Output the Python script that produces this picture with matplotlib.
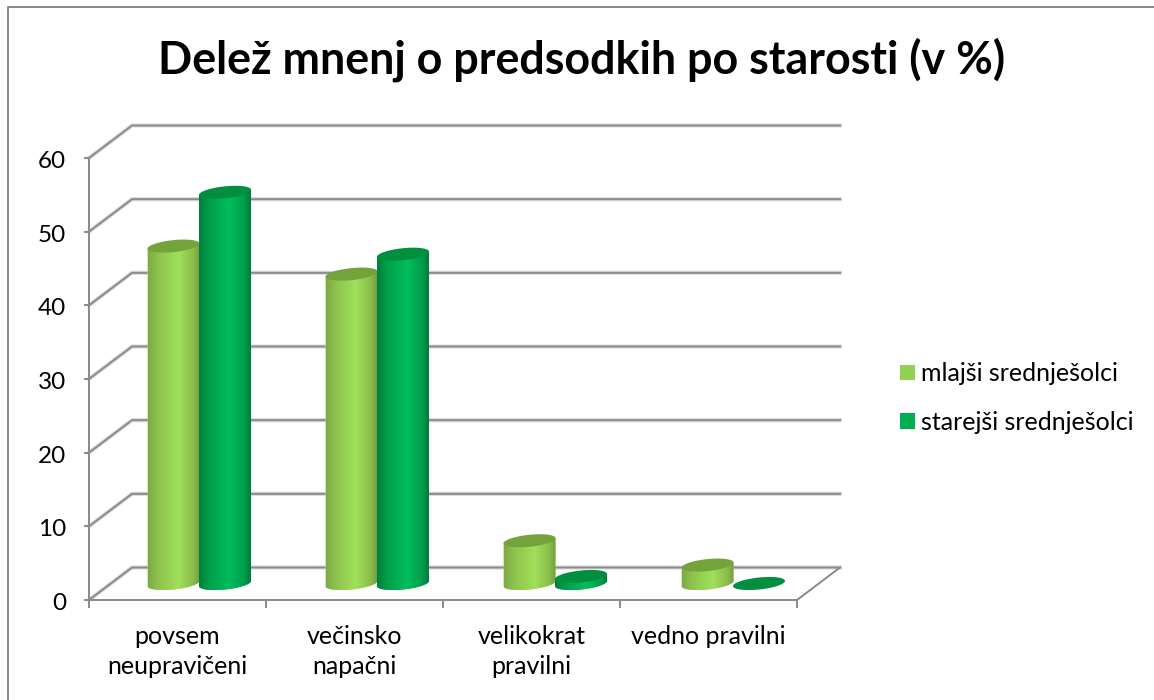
import numpy as np
import matplotlib
matplotlib.use("Agg")
import matplotlib.pyplot as plt
from matplotlib.colors import LinearSegmentedColormap
from matplotlib.lines import Line2D
from matplotlib.patches import Patch, Polygon
from matplotlib.transforms import ScaledTranslation

categories = ["povsem\nneupravičeni", "večinsko\nnapačni", "velikokrat\npravilni", "vedno pravilni"]
series_names = ["mlajši srednješolci", "starejši srednješolci"]
mlajsi = [45.8, 42.0, 5.8, 2.5]
starejsi = [53.1, 44.7, 0.95, 0.0]
y_ticks = [0, 10, 20, 30, 40, 50, 60]
title = "Delež mnenj o predsodkih po starosti (v %)"

plt.rcParams["font.family"] = ["Lato", "DejaVu Sans"]
W, H = 1154, 700
fig = plt.figure(figsize=(W / 100, H / 100), dpi=100, facecolor="white")
L, R, T, B = 89, 797, 158, 600
ax = fig.add_axes([L / W, 1 - B / H, (R - L) / W, (B - T) / H])
SX, SY = (R - L) / 4, (B - T) / 60
GREY = "#8c8c8c"
LW = 1.45
DX, DY = 43 / SX, 32.5 / SY

# outer chart frame
fig.add_artist(Line2D([7.7 / W, 7.7 / W, 1], [0, 1 - 6.8 / H, 1 - 6.8 / H], color=GREY, lw=LW, transform=fig.transFigure))

ax.set_facecolor("none")
for s in ("top", "right"):
    ax.spines[s].set_visible(False)
for s in ("left", "bottom"):
    ax.spines[s].set_color(GREY)
    ax.spines[s].set_linewidth(LW)

# walls and gridlines
for v in y_ticks:
    xs, ys = [0, DX, 4 + DX], [v, v + DY, v + DY]
    ax.plot(xs, ys, color="#dcdcdc", lw=3, clip_on=False, zorder=1, solid_joinstyle="round")
    ax.plot(xs, ys, color=GREY, lw=LW, clip_on=False, zorder=1.1, solid_joinstyle="round")
ax.plot([4, 4 + DX], [0, DY], color=GREY, lw=LW, clip_on=False, zorder=1.1)

cmap_light = LinearSegmentedColormap.from_list("l", [(0, "#7fa845"), (0.2, "#8fc44e"), (0.58, "#a0e05a"), (0.85, "#8cbd4c"), (1, "#709a40")])
cmap_dark = LinearSegmentedColormap.from_list("d", [(0, "#007f3b"), (0.2, "#00a04c"), (0.58, "#00bd5c"), (0.85, "#00a04e"), (1, "#007c3b")])
tops = ["#74a33c", "#008f3f"]
grad = np.linspace(0, 1, 256).reshape(1, -1)

half = 26 / SX
b_y = 6.0 / SY
slope = 2.6 / SY
base = 16.5 / SY
t = np.linspace(0, 2 * np.pi, 200)


def ellipse_pts(cx, cy):
    return np.column_stack([cx + half * np.cos(t), cy + slope * np.cos(t) + b_y * np.sin(t)])


def cylinder(cx, value, cmap, top_color, z):
    y0, y1 = base, base + value
    if value > 0:
        tt = np.linspace(np.pi, 2 * np.pi, 100)
        lower = np.column_stack([cx + half * np.cos(tt), y0 + slope * np.cos(tt) + b_y * np.sin(tt)])
        upper = np.array([[cx + half, y1 + slope], [cx - half, y1 - slope]])
        poly = Polygon(np.vstack([lower, upper]), closed=True, facecolor=cmap(0.6), edgecolor="none", zorder=z, clip_on=False)
        ax.add_patch(poly)
        im = ax.imshow(grad, cmap=cmap, extent=[cx - half, cx + half, y0 - 2, y1 + 2], aspect="auto", zorder=z + 0.1, interpolation="bilinear")
        im.set_clip_path(poly)
    ax.add_patch(Polygon(ellipse_pts(cx, y1), closed=True, facecolor=top_color, edgecolor="none", zorder=z + 0.2, clip_on=False))


z = 3
for i, (a, c) in enumerate(zip(mlajsi, starejsi)):
    center = i + 0.5 + (21.5 + i) / SX
    cylinder(center - 25.5 / SX, a, cmap_light, tops[0], z)
    cylinder(center + 26 / SX, c, cmap_dark, tops[1], z + 1)
    z += 2

ax.set_xlim(0, 4)
ax.set_ylim(0, 60)
ax.set_yticks(y_ticks)
ax.tick_params(axis="y", length=3.8, width=LW, color=GREY, labelsize=17.5, pad=12.5, labelcolor="black")
shift = ScaledTranslation(0, -1.5 / 100, fig.dpi_scale_trans)
for lab in ax.get_yticklabels():
    lab.set_transform(lab.get_transform() + shift)
ax.set_xticks(range(5))
ax.set_xticklabels([])
ax.tick_params(axis="x", which="major", length=6, width=LW, color=GREY)
ax.set_xticks(np.arange(4) + 0.5, minor=True)
ax.set_xticklabels(categories, minor=True, fontsize=18, linespacing=1.38)
ax.tick_params(axis="x", which="minor", length=0, pad=18)

fig.text(582 / W, 1 - 60 / H, title, ha="center", va="center", fontsize=32.3, fontweight="bold", color="black")

handles = [Patch(facecolor="#92d050", edgecolor="none"), Patch(facecolor="#00b050", edgecolor="none")]
fig.legend(handles, series_names, loc="center left", bbox_to_anchor=(900 / W, 1 - 398 / H), frameon=False,
           fontsize=18, handlelength=0.6, handleheight=0.6, handletextpad=0.24, labelspacing=1.02, borderpad=0, borderaxespad=0)

fig.savefig("out.png", dpi=100)
